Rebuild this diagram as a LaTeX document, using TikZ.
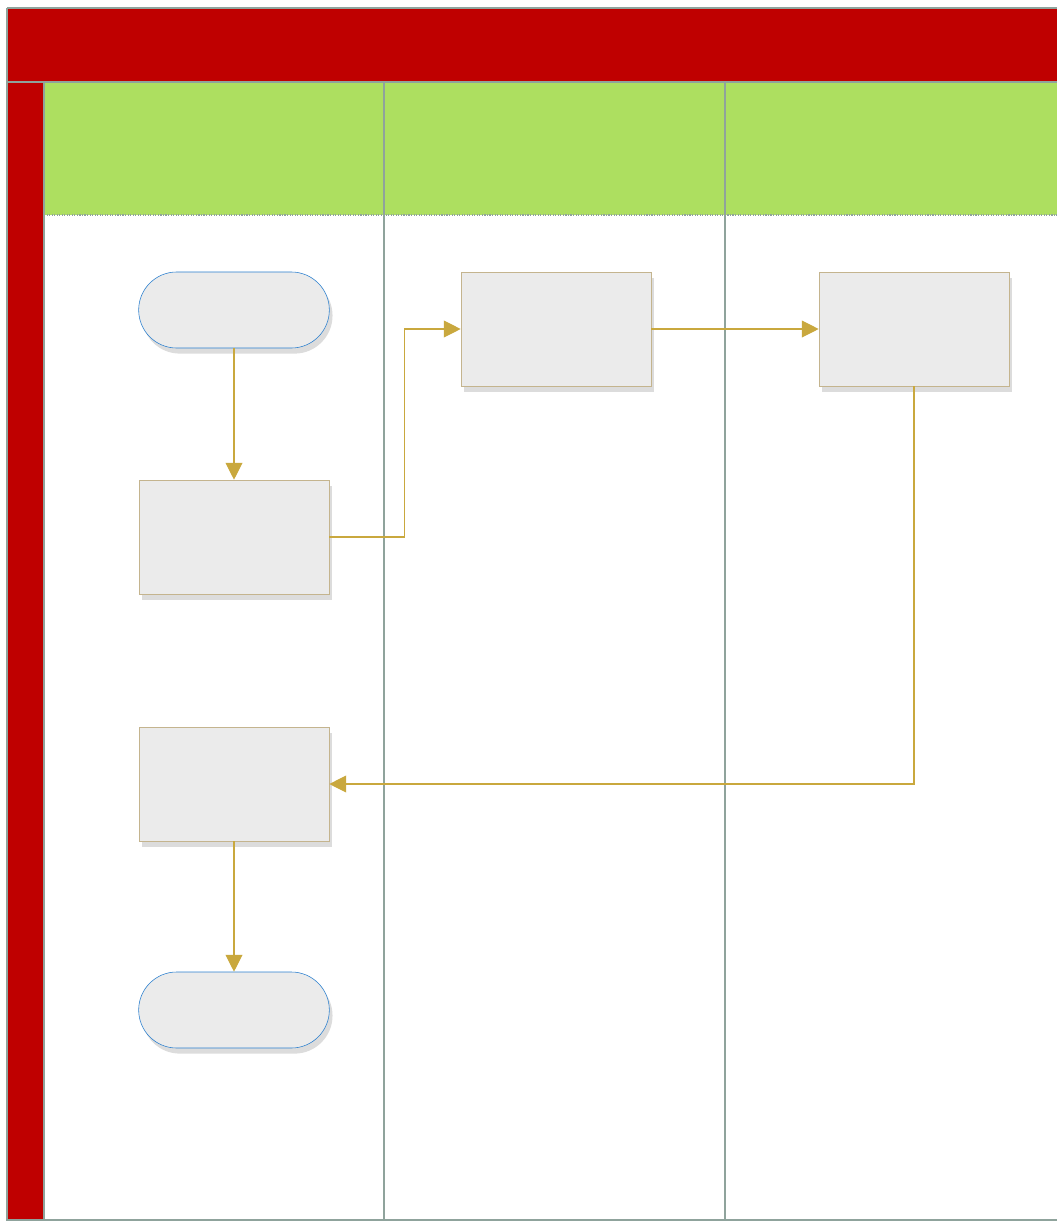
\documentclass[tikz,border=0pt]{standalone}
\usetikzlibrary{positioning,shapes.misc,arrows.meta,shadows}

\definecolor{poolred}{HTML}{BF0000}
\definecolor{lanegreen}{HTML}{ADDF60}
\definecolor{taskfill}{HTML}{EBEBEB}
\definecolor{taskline}{HTML}{C4B48E}
\definecolor{termline}{HTML}{2A7FCF}
\definecolor{flowgold}{HTML}{C9A83E}
\definecolor{laneline}{HTML}{8FA39C}

\tikzset{
  task/.style={rectangle, draw=taskline, fill=taskfill, minimum width=4.75cm, minimum height=2.85cm,
    drop shadow={shadow xshift=0.08cm, shadow yshift=-0.14cm, fill=gray!55}},
  terminal/.style={rounded rectangle, draw=termline, fill=taskfill, minimum width=5cm, minimum height=1.9cm,
    drop shadow={shadow xshift=0.08cm, shadow yshift=-0.14cm, fill=gray!55}},
  flow/.style={draw=flowgold, thick, -{Triangle[length=0.42cm,width=0.42cm]}},
  divider/.style={draw=laneline, thick}
}

\begin{document}
\begin{tikzpicture}[x=0.025cm,y=-0.025cm]

\def\POOLCOLOR{poolred}
\def\HEADCOLOR{lanegreen}
	\useasboundingbox (0,0) rectangle (1057,1224);
	% pool and lane headers
	\fill[\POOLCOLOR] (7,8) rectangle (1057,82);
	\fill[\POOLCOLOR] (7,82) rectangle (44,1220);
	\fill[\HEADCOLOR] (44,82) rectangle (1057,215);
	\draw[divider] (7,8) -- (1057,8);
	\draw[divider] (7,8) -- (7,1220) -- (1057,1220);
	\draw[divider] (7,82) -- (1057,82);
	\draw[divider] (44,82) -- (44,1220);
	\draw[divider, densely dotted] (44,215) -- (1057,215);
	\draw[divider] (384,82) -- (384,1220);
	\draw[divider] (725,82) -- (725,1220);

	% steps
	\node[terminal] (start) at (234,310) {};
	\node[task] (act1) at (234,537) {};
	\node[task] (act2) at (556,329) {};
	\node[task] (act3) at (914,329) {};
	\node[task] (act4) at (234,784) {};
	\node[terminal] (stop) at (234,1010) {};

	% flows
	\draw[flow] (start) -- (act1);
	\draw[flow] (act1.east) -- ++(75,0) |- (act2.west);
	\draw[flow] (act2) -- (act3);
	\draw[flow] (act3.south) |- (act4.east);
	\draw[flow] (act4) -- (stop);

\end{tikzpicture}
\end{document}
